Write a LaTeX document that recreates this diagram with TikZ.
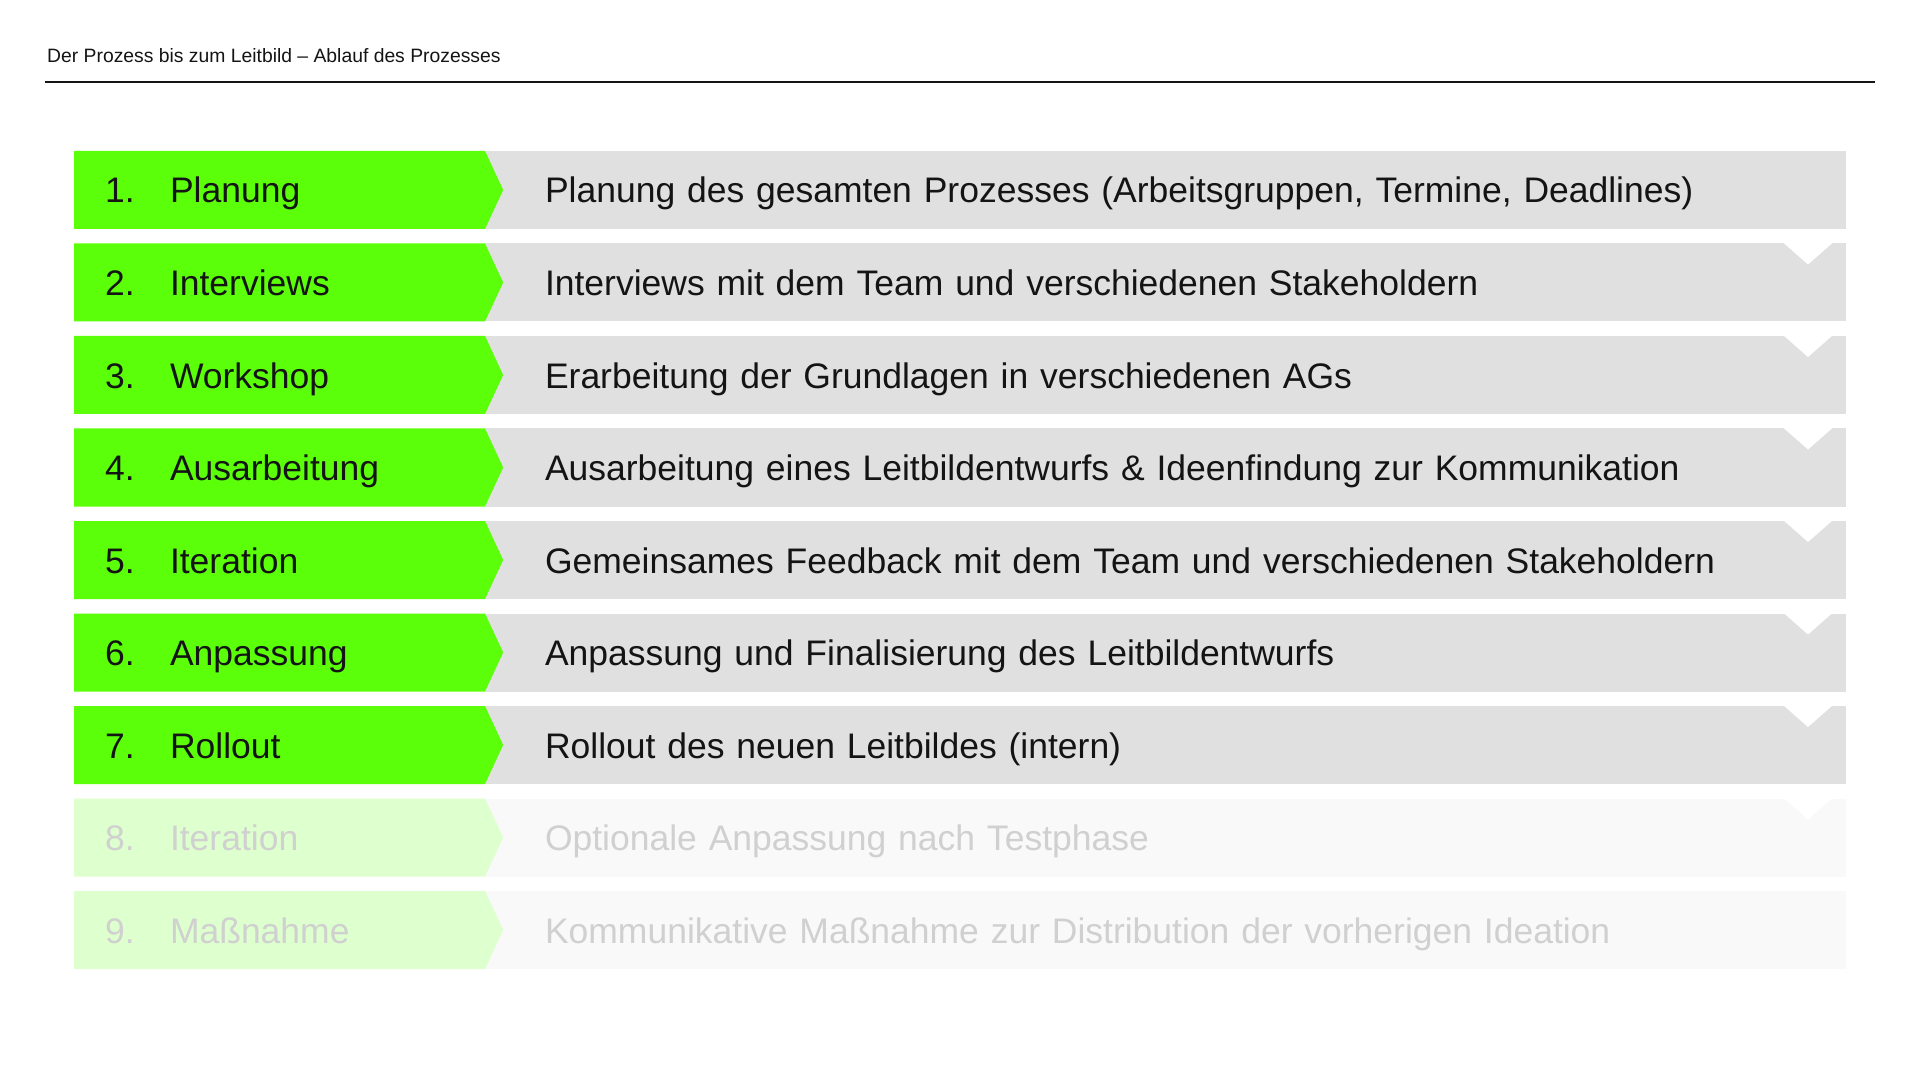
\documentclass[tikz,border=0pt]{standalone}
\usepackage{fontspec}
\setmainfont{Liberation Sans}
\usepackage{tikz}
\usetikzlibrary{shapes.symbols, positioning, calc}
\definecolor{stagegreen}{HTML}{5CFF0A}
\definecolor{descgray}{HTML}{E0E0E0}
\definecolor{inktext}{HTML}{141414}
\tikzstyle{stage} = [signal, signal to=east, signal pointer angle=130, fill=stagegreen, text=inktext, text width=3.49cm, inner xsep=0.31cm, inner ysep=0.22cm, outer sep=0pt, text height=0.30cm, text depth=0.04cm, align=left, font=\fontsize{10.1pt}{12pt}\selectfont]
\tikzstyle{desc} = [rectangle, fill=descgray, text=inktext, text width=12.41cm, inner xsep=0.6cm, inner ysep=0.22cm, outer sep=0pt, text height=0.30cm, text depth=0.04cm, align=left, font=\fontsize{10.1pt}{12pt}\selectfont]
\tikzstyle{stagefade} = [stage, fill=stagegreen!20!white, text=inktext!20!white]
\tikzstyle{descfade} = [desc, fill=descgray!20!white, text=inktext!20!white]
\tikzstyle{notch} = [fill=white]
\tikzstyle{header} = [inner sep=0pt, text=inktext, font=\fontsize{5.5pt}{6.5pt}\selectfont]
\tikzstyle{rule} = [draw=inktext, line width=0.45pt]
\newcommand{\stagenum}[1]{\makebox[0.65cm][l]{#1}}

\begin{document}
\begin{tikzpicture}[node distance=0.145cm]
    \useasboundingbox (0,0) rectangle (19.2,-10.8);

    % header
    \node[header, anchor=base west] (head) at (0.465,-0.625) {Der Prozess bis zum Leitbild – Ablauf des Prozesses};
    \coordinate (ruleL) at (0.45,-0.82);
    \coordinate (ruleR) at (18.75,-0.82);
    \draw[rule] (ruleL) -- (ruleR);

    % descriptions
    \node[desc] (d1) at (11.655,-1.90) {Planung des gesamten Prozesses (Arbeitsgruppen, Termine, Deadlines)};
    \node[desc, below=of d1] (d2) {Interviews mit dem Team und verschiedenen Stakeholdern};
    \node[desc, below=of d2] (d3) {Erarbeitung der Grundlagen in verschiedenen AGs};
    \node[desc, below=of d3] (d4) {Ausarbeitung eines Leitbildentwurfs \& Ideenfindung zur Kommunikation};
    \node[desc, below=of d4] (d5) {Gemeinsames Feedback mit dem Team und verschiedenen Stakeholdern};
    \node[desc, below=of d5] (d6) {Anpassung und Finalisierung des Leitbildentwurfs};
    \node[desc, below=of d6] (d7) {Rollout des neuen Leitbildes (intern)};
    \node[descfade, below=of d7] (d8) {Optionale Anpassung nach Testphase};
    \node[descfade, below=of d8] (d9) {Kommunikative Maßnahme zur Distribution der vorherigen Ideation};

    % notches
    \fill[notch] ($(d2.north east)+(-0.63,0.01)$) -- ++(0.25,-0.22) -- ++(0.25,0.22) -- cycle;
    \fill[notch] ($(d3.north east)+(-0.63,0.01)$) -- ++(0.25,-0.22) -- ++(0.25,0.22) -- cycle;
    \fill[notch] ($(d4.north east)+(-0.63,0.01)$) -- ++(0.25,-0.22) -- ++(0.25,0.22) -- cycle;
    \fill[notch] ($(d5.north east)+(-0.63,0.01)$) -- ++(0.25,-0.22) -- ++(0.25,0.22) -- cycle;
    \fill[notch] ($(d6.north east)+(-0.63,0.01)$) -- ++(0.25,-0.22) -- ++(0.25,0.22) -- cycle;
    \fill[notch] ($(d7.north east)+(-0.63,0.01)$) -- ++(0.25,-0.22) -- ++(0.25,0.22) -- cycle;
    \fill[notch] ($(d8.north east)+(-0.63,0.01)$) -- ++(0.25,-0.22) -- ++(0.25,0.22) -- cycle;

    % stages
    \node[stage, left=-0.182cm of d1] (s1) {\stagenum{1.}Planung};
    \node[stage, left=-0.182cm of d2] (s2) {\stagenum{2.}Interviews};
    \node[stage, left=-0.182cm of d3] (s3) {\stagenum{3.}Workshop};
    \node[stage, left=-0.182cm of d4] (s4) {\stagenum{4.}Ausarbeitung};
    \node[stage, left=-0.182cm of d5] (s5) {\stagenum{5.}Iteration};
    \node[stage, left=-0.182cm of d6] (s6) {\stagenum{6.}Anpassung};
    \node[stage, left=-0.182cm of d7] (s7) {\stagenum{7.}Rollout};
    \node[stagefade, left=-0.182cm of d8] (s8) {\stagenum{8.}Iteration};
    \node[stagefade, left=-0.182cm of d9] (s9) {\stagenum{9.}Maßnahme};
\end{tikzpicture}
\end{document}
